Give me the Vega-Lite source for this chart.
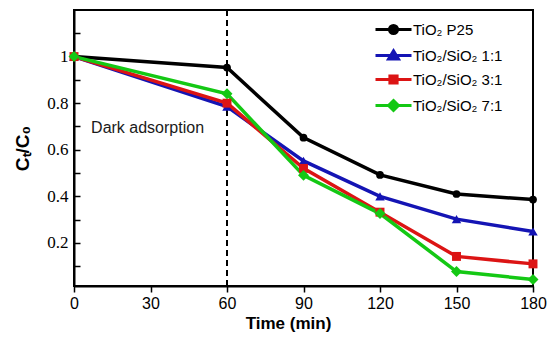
{
  "$schema": "https://vega.github.io/schema/vega-lite/v6.json",
  "width": 459,
  "height": 276,
  "autosize": {"type": "none"},
  "padding": {"left": 74, "top": 10, "right": 17, "bottom": 57},
  "background": "white",
  "config": {
    "view": {"stroke": "black", "strokeWidth": 2},
    "axis": {"domainColor": "black", "domainWidth": 2, "tickColor": "black", "tickWidth": 1.5, "grid": false, "labelColor": "black", "titleColor": "black"}
  },
  "resolve": {"axis": {"y": "independent"}},
  "datasets": {
    "main": [
      {"series": "TiO₂ P25", "time": 0, "value": 1.0},
      {"series": "TiO₂ P25", "time": 60, "value": 0.953},
      {"series": "TiO₂ P25", "time": 90, "value": 0.652},
      {"series": "TiO₂ P25", "time": 120, "value": 0.492},
      {"series": "TiO₂ P25", "time": 150, "value": 0.41},
      {"series": "TiO₂ P25", "time": 180, "value": 0.386},
      {"series": "TiO₂/SiO₂ 1:1", "time": 0, "value": 1.0},
      {"series": "TiO₂/SiO₂ 1:1", "time": 60, "value": 0.785},
      {"series": "TiO₂/SiO₂ 1:1", "time": 90, "value": 0.552},
      {"series": "TiO₂/SiO₂ 1:1", "time": 120, "value": 0.4},
      {"series": "TiO₂/SiO₂ 1:1", "time": 150, "value": 0.302},
      {"series": "TiO₂/SiO₂ 1:1", "time": 180, "value": 0.249},
      {"series": "TiO₂/SiO₂ 3:1", "time": 0, "value": 1.0},
      {"series": "TiO₂/SiO₂ 3:1", "time": 60, "value": 0.8},
      {"series": "TiO₂/SiO₂ 3:1", "time": 90, "value": 0.52},
      {"series": "TiO₂/SiO₂ 3:1", "time": 120, "value": 0.332},
      {"series": "TiO₂/SiO₂ 3:1", "time": 150, "value": 0.142},
      {"series": "TiO₂/SiO₂ 3:1", "time": 180, "value": 0.11},
      {"series": "TiO₂/SiO₂ 7:1", "time": 0, "value": 1.0},
      {"series": "TiO₂/SiO₂ 7:1", "time": 60, "value": 0.84},
      {"series": "TiO₂/SiO₂ 7:1", "time": 90, "value": 0.49},
      {"series": "TiO₂/SiO₂ 7:1", "time": 120, "value": 0.326},
      {"series": "TiO₂/SiO₂ 7:1", "time": 150, "value": 0.077},
      {"series": "TiO₂/SiO₂ 7:1", "time": 180, "value": 0.043}
    ],
    "notes": [{"label": "Dark adsorption", "time": 6.7, "value": 0.695}],
    "marker": [{"time": 60}]
  },
  "layer": [
    {
      "data": {"name": "marker"},
      "mark": {"type": "rule", "stroke": "black", "strokeWidth": 2, "strokeDash": [6, 4]},
      "encoding": {"x": {"field": "time", "type": "quantitative", "scale": {"domain": [0, 180]}}}
    },
    {
      "data": {"name": "notes"},
      "mark": {"type": "text", "font": "Liberation Sans", "fontSize": 16, "align": "left", "baseline": "middle", "color": "#1a1a1a"},
      "encoding": {
        "text": {"field": "label"},
        "x": {"field": "time", "type": "quantitative"},
        "y": {
          "field": "value", "type": "quantitative",
          "axis": {"orient": "left", "values": [0.1, 0.3, 0.5, 0.7, 0.9, 1.1], "labels": false, "domain": false, "title": null, "tickSize": -6}
        }
      }
    },
    {
      "data": {"name": "main"},
      "encoding": {
        "x": {
          "field": "time", "type": "quantitative",
          "scale": {"domain": [0, 180], "nice": false, "zero": false},
          "axis": {
            "values": [0, 30, 60, 90, 120, 150, 180],
            "title": "Time (min)",
            "titleFont": "Liberation Sans", "titleFontSize": 17, "titleFontWeight": "bold",
            "titlePadding": 4, "titleX": 214,
            "labelFont": "Liberation Sans", "labelFontSize": 16, "labelPadding": 3,
            "tickSize": 6, "labelFlush": false
          }
        },
        "y": {
          "field": "value", "type": "quantitative",
          "scale": {"domain": [0.015, 1.2], "nice": false, "zero": false},
          "axis": {
            "orient": "left",
            "values": [0.2, 0.4, 0.6, 0.8, 1.0],
            "format": ".1~f",
            "title": "Cₜ/C₀",
            "titleFont": "Liberation Sans", "titleFontSize": 19, "titleFontWeight": "bold",
            "titlePadding": 14,
            "labelFont": "Liberation Serif", "labelFontSize": 17,
            "tickSize": -6, "labelPadding": 12, "labelFlush": false
          }
        }
      },
      "layer": [
        {
          "mark": {"type": "line", "strokeWidth": 3.5},
          "encoding": {
            "stroke": {
              "field": "series", "type": "nominal",
              "scale": {"domain": ["TiO₂ P25", "TiO₂/SiO₂ 1:1", "TiO₂/SiO₂ 3:1", "TiO₂/SiO₂ 7:1"], "range": ["#000000", "#1414b4", "#dc1414", "#14c814"]}
            }
          }
        },
        {
          "transform": [{"filter": "datum.series === 'TiO₂ P25'"}],
          "mark": {"type": "point", "filled": true, "shape": "circle", "size": 60, "opacity": 1},
          "encoding": {
            "fill": {"field": "series", "type": "nominal", "scale": {"domain": ["TiO₂ P25", "TiO₂/SiO₂ 1:1", "TiO₂/SiO₂ 3:1", "TiO₂/SiO₂ 7:1"], "range": ["#000000", "#1414b4", "#dc1414", "#14c814"]}}
          }
        },
        {
          "transform": [{"filter": "datum.series === 'TiO₂/SiO₂ 1:1'"}],
          "mark": {"type": "point", "filled": true, "shape": "triangle-up", "size": 90, "opacity": 1},
          "encoding": {
            "fill": {"field": "series", "type": "nominal", "scale": {"domain": ["TiO₂ P25", "TiO₂/SiO₂ 1:1", "TiO₂/SiO₂ 3:1", "TiO₂/SiO₂ 7:1"], "range": ["#000000", "#1414b4", "#dc1414", "#14c814"]}}
          }
        },
        {
          "transform": [{"filter": "datum.series === 'TiO₂/SiO₂ 3:1'"}],
          "mark": {"type": "point", "filled": true, "shape": "square", "size": 80, "opacity": 1},
          "encoding": {
            "fill": {"field": "series", "type": "nominal", "scale": {"domain": ["TiO₂ P25", "TiO₂/SiO₂ 1:1", "TiO₂/SiO₂ 3:1", "TiO₂/SiO₂ 7:1"], "range": ["#000000", "#1414b4", "#dc1414", "#14c814"]}}
          }
        },
        {
          "transform": [{"filter": "datum.series === 'TiO₂/SiO₂ 7:1'"}],
          "mark": {"type": "point", "filled": true, "shape": "diamond", "size": 120, "opacity": 1},
          "encoding": {
            "fill": {"field": "series", "type": "nominal", "scale": {"domain": ["TiO₂ P25", "TiO₂/SiO₂ 1:1", "TiO₂/SiO₂ 3:1", "TiO₂/SiO₂ 7:1"], "range": ["#000000", "#1414b4", "#dc1414", "#14c814"]}}
          }
        },
        {
          "mark": {"type": "point", "filled": true, "opacity": 1, "size": 0, "strokeWidth": 3},
          "encoding": {
            "fill": {"field": "series", "type": "nominal", "scale": {"domain": ["TiO₂ P25", "TiO₂/SiO₂ 1:1", "TiO₂/SiO₂ 3:1", "TiO₂/SiO₂ 7:1"], "range": ["#000000", "#1414b4", "#dc1414", "#14c814"]},
              "legend": {"orient": "none", "legendX": 312, "legendY": 12, "title": null, "symbolSize": 81, "symbolStrokeWidth": 3, "labelFont": "Liberation Sans", "labelFontSize": 15, "labelColor": "black", "labelOffset": 12, "rowPadding": 4, "padding": 0}},
            "stroke": {"field": "series", "type": "nominal", "scale": {"domain": ["TiO₂ P25", "TiO₂/SiO₂ 1:1", "TiO₂/SiO₂ 3:1", "TiO₂/SiO₂ 7:1"], "range": ["#000000", "#1414b4", "#dc1414", "#14c814"]},
              "legend": {"orient": "none", "legendX": 312, "legendY": 12, "title": null, "symbolSize": 81, "symbolStrokeWidth": 3, "labelFont": "Liberation Sans", "labelFontSize": 15, "labelColor": "black", "labelOffset": 12, "rowPadding": 4, "padding": 0}},
            "shape": {"field": "series", "type": "nominal",
              "scale": {"domain": ["TiO₂ P25", "TiO₂/SiO₂ 1:1", "TiO₂/SiO₂ 3:1", "TiO₂/SiO₂ 7:1"],
                "range": ["M-4,0H4M0.9,0A0.9,0.9,0,1,1,-0.9,0A0.9,0.9,0,1,1,0.9,0Z", "M-4,0H4M0,-1.05L1.1,0.75L-1.1,0.75Z", "M-4,0H4M-0.8,-0.8H0.8V0.8H-0.8Z", "M-4,0H4M0,-1.1L1.1,0L0,1.1L-1.1,0Z"]},
              "legend": {"orient": "none", "legendX": 312, "legendY": 12, "title": null, "symbolSize": 81, "symbolStrokeWidth": 3, "labelFont": "Liberation Sans", "labelFontSize": 15, "labelColor": "black", "labelOffset": 12, "rowPadding": 4, "padding": 0}}
          }
        }
      ]
    }
  ]
}
